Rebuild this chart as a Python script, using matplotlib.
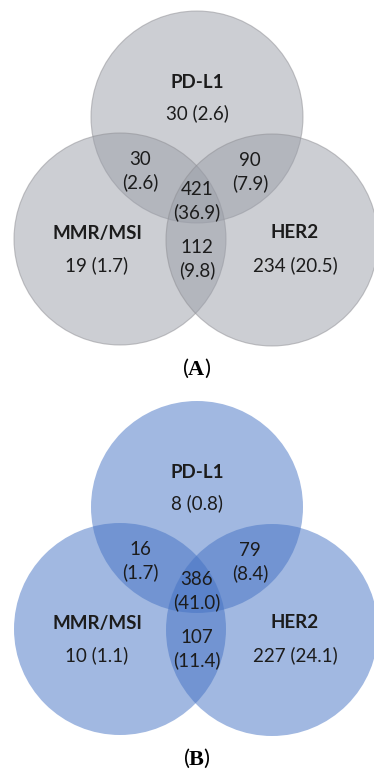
import matplotlib
matplotlib.use("Agg")
import matplotlib.pyplot as plt
from matplotlib.patches import Circle

plt.rcParams["font.family"] = ["Lato", "DejaVu Sans"]
plt.rcParams["mathtext.fontset"] = "custom"
plt.rcParams["mathtext.rm"] = "Liberation Serif"
plt.rcParams["mathtext.bf"] = "Liberation Serif:bold"

# sets and region counts (percent of patients) for both cohorts
set_names = ["PD-L1", "MMR/MSI", "HER2"]
panel_tags = ["A", "B"]
# order: PD-L1 only, MMR only, HER2 only, PD-L1&MMR, PD-L1&HER2, all three, MMR&HER2
counts_a = [30, 19, 234, 30, 90, 421, 112]
pct_a = [2.6, 1.7, 20.5, 2.6, 7.9, 36.9, 9.8]
counts_b = [8, 10, 227, 16, 79, 386, 107]
pct_b = [0.8, 1.1, 24.1, 1.7, 8.4, 41.0, 11.4]

fills = [(155/255, 159/255, 169/255), (68/255, 114/255, 196/255)]
edges = [(0.55, 0.55, 0.57), "none"]

W, H = 374, 771
fig = plt.figure(figsize=(W/100, H/100), dpi=100)
ax = fig.add_axes([0, 0, 1, 1])
ax.set_xlim(0, W)
ax.set_ylim(H, 0)
ax.set_aspect("equal")
ax.axis("off")

R = 106
centers = [(197, 117), (120, 239), (272, 240)]
name_pos = [(197, 83), (97, 233), (295, 233)]
single_pos = [(197, 113), (97, 265), (295, 265)]
inter_pos = [(140, 171), (250, 172), (197, 201), (197, 259)]
txt = "#1c1c1c"
fs = 13.5

for k, (counts, pct) in enumerate([(counts_a, pct_a), (counts_b, pct_b)]):
    dy = 390 * k
    for cx, cy in centers:
        ax.add_patch(Circle((cx, cy + dy), R, facecolor=fills[k], alpha=0.5,
                            edgecolor=edges[k], linewidth=0.8))
    for i in range(3):
        x, y = name_pos[i]
        ax.text(x, y + dy, set_names[i], ha="center", va="center",
                fontsize=fs, fontweight="bold", color=txt)
        x, y = single_pos[i]
        ax.text(x, y + dy, f"{counts[i]} ({pct[i]:.1f})", ha="center",
                va="center", fontsize=fs, color=txt)
    for j in range(4):
        x, y = inter_pos[j]
        ax.text(x, y + dy, f"{counts[3 + j]}\n({pct[3 + j]:.1f})", ha="center",
                va="center", fontsize=fs, color=txt, linespacing=1.3)
    ax.text(197, 368 + dy, r"$\mathregular{(}\mathbf{%s}\mathregular{)}$" % panel_tags[k],
            ha="center", va="center", fontsize=16, color="black")

fig.savefig("out.png", dpi=100)
